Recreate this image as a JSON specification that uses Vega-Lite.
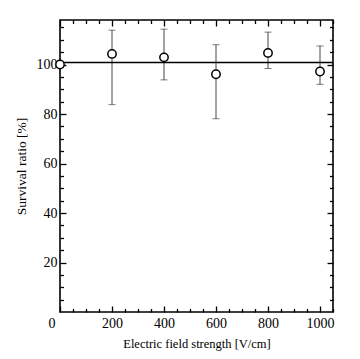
{
  "$schema": "https://vega.github.io/schema/vega-lite/v6.json",
  "width": 273,
  "height": 292,
  "autosize": "none",
  "padding": {"left": 60, "top": 20, "right": 27, "bottom": 47},
  "background": "white",
  "config": {
    "view": {"stroke": "black", "strokeWidth": 1.6},
    "axis": {
      "domain": false,
      "grid": false,
      "tickColor": "black",
      "tickWidth": 1.3,
      "labelColor": "black",
      "titleColor": "black",
      "labelFont": "Liberation Serif",
      "titleFont": "Liberation Serif",
      "labelFontSize": 14,
      "titleFontSize": 12.5,
      "titleFontWeight": "normal"
    }
  },
  "datasets": {
    "survival": [
      {"field": 0, "ratio": 100, "lo": null, "hi": null},
      {"field": 200, "ratio": 104.3, "lo": 83.8, "hi": 113.9},
      {"field": 400, "ratio": 102.9, "lo": 93.8, "hi": 114.3},
      {"field": 600, "ratio": 96.1, "lo": 78.1, "hi": 108.0},
      {"field": 800, "ratio": 104.7, "lo": 98.4, "hi": 113.1},
      {"field": 1000, "ratio": 97.2, "lo": 92.0, "hi": 107.5}
    ],
    "fit": [
      {"start": 0, "end": 1050, "level": 100.8}
    ]
  },
  "layer": [
    {
      "data": {"name": "survival"},
      "mark": {"type": "rule", "color": "#444444", "strokeWidth": 1},
      "encoding": {
        "x": {"field": "field", "type": "quantitative", "scale": {"domain": [0, 1050], "nice": false, "zero": false},
          "axis": {"orient": "bottom", "values": [0, 200, 400, 600, 800, 1000], "format": "d", "tickSize": -6, "labelPadding": 10,
            "labelAlign": {"expr": "datum.value === 0 ? 'right' : 'center'"},
            "labelOffset": {"expr": "datum.value === 0 ? -5 : 0"},
            "title": "Electric field strength [V/cm]", "titlePadding": 7}},
        "y": {"field": "lo", "type": "quantitative", "scale": {"domain": [0, 118], "nice": false},
          "axis": {"orient": "left", "values": [20, 40, 60, 80, 100], "tickSize": -6, "labelPadding": 9,
            "title": "Survival ratio [%]", "titleFontSize": 13.5, "titlePadding": 8}},
        "y2": {"field": "hi"}
      }
    },
    {
      "data": {"name": "survival"},
      "mark": {"type": "tick", "orient": "horizontal", "size": 7, "thickness": 1, "color": "#444444"},
      "encoding": {
        "x": {"field": "field", "type": "quantitative", "scale": {"domain": [0, 1050], "nice": false, "zero": false},
          "axis": {"orient": "bottom", "values": [50, 100, 150, 250, 300, 350, 450, 500, 550, 650, 700, 750, 850, 900, 950, 1050], "tickSize": -3.5, "labels": false, "title": null}},
        "y": {"field": "hi", "type": "quantitative", "scale": {"domain": [0, 118], "nice": false},
          "axis": {"orient": "left", "values": [5, 10, 15, 25, 30, 35, 45, 50, 55, 65, 70, 75, 85, 90, 95, 105, 110, 115], "tickSize": -3.5, "labels": false, "title": null}}
      }
    },
    {
      "data": {"name": "survival"},
      "mark": {"type": "tick", "orient": "horizontal", "size": 7, "thickness": 1, "color": "#444444"},
      "encoding": {
        "x": {"field": "field", "type": "quantitative", "scale": {"domain": [0, 1050], "nice": false, "zero": false},
          "axis": {"orient": "top", "values": [0, 200, 400, 600, 800, 1000], "tickSize": -6, "labels": false, "title": null}},
        "y": {"field": "lo", "type": "quantitative", "scale": {"domain": [0, 118], "nice": false},
          "axis": {"orient": "right", "values": [20, 40, 60, 80, 100], "tickSize": -6, "labels": false, "title": null}}
      }
    },
    {
      "data": {"name": "fit"},
      "mark": {"type": "rule", "color": "black", "strokeWidth": 1.6},
      "encoding": {
        "x": {"field": "start", "type": "quantitative", "scale": {"domain": [0, 1050], "nice": false, "zero": false},
          "axis": {"orient": "top", "values": [50, 100, 150, 250, 300, 350, 450, 500, 550, 650, 700, 750, 850, 900, 950, 1050], "tickSize": -3.5, "labels": false, "title": null}},
        "x2": {"field": "end"},
        "y": {"field": "level", "type": "quantitative", "scale": {"domain": [0, 118], "nice": false},
          "axis": {"orient": "right", "values": [5, 10, 15, 25, 30, 35, 45, 50, 55, 65, 70, 75, 85, 90, 95, 105, 110, 115], "tickSize": -3.5, "labels": false, "title": null}}
      }
    },
    {
      "data": {"name": "survival"},
      "mark": {"type": "point", "shape": "circle", "size": 70, "filled": false, "fill": "white", "fillOpacity": 1, "stroke": "black", "strokeWidth": 1.5, "opacity": 1},
      "encoding": {
        "x": {"field": "field", "type": "quantitative", "scale": {"domain": [0, 1050], "nice": false, "zero": false}, "axis": null},
        "y": {"field": "ratio", "type": "quantitative", "scale": {"domain": [0, 118], "nice": false}, "axis": null}
      }
    }
  ],
  "resolve": {"axis": {"x": "independent", "y": "independent"}}
}
